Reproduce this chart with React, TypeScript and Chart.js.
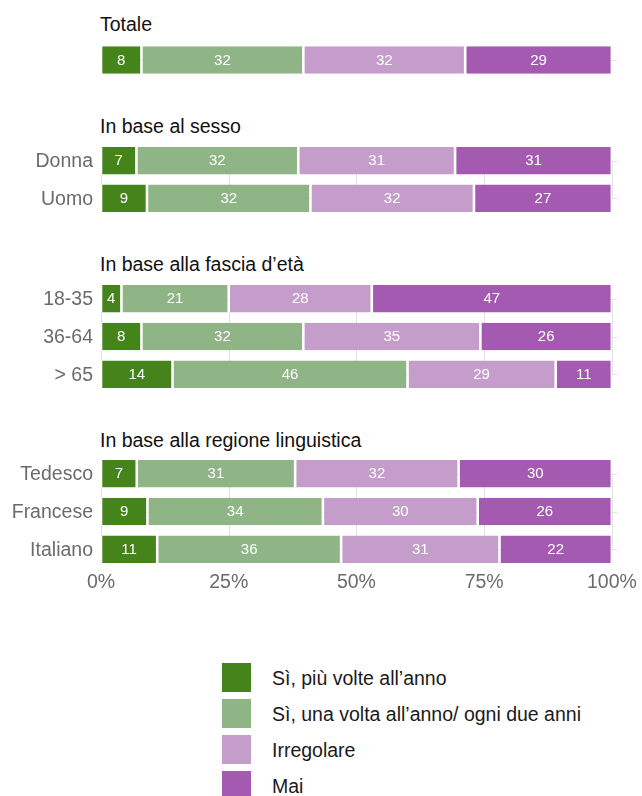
import React, { useEffect, useRef } from 'react';
import { Chart, registerables } from 'chart.js';

Chart.register(...registerables);

// ---------- data ----------
const groupTitles = [
  'Totale',
  'In base al sesso',
  'In base alla fascia d’età',
  'In base alla regione linguistica',
];
const totaleRows = [''];
const sessoRows = ['Donna', 'Uomo'];
const etaRows = ['18-35', '36-64', '> 65'];
const regioneRows = ['Tedesco', 'Francese', 'Italiano'];

const seriesNames = [
  'Sì, più volte all’anno',
  'Sì, una volta all’anno/ ogni due anni',
  'Irregolare',
  'Mai',
];
const seriesColors = ['#45841b', '#8fb485', '#c59dcb', '#a35ab0'];

// values per series (rows in order of the group's categories)
const totaleValues = [[8], [32], [32], [29]];
const sessoValues = [[7, 9], [32, 32], [31, 32], [31, 27]];
const etaValues = [[4, 8, 14], [21, 32, 46], [28, 35, 29], [47, 26, 11]];
const regioneValues = [[7, 9, 11], [31, 34, 36], [32, 30, 31], [30, 26, 22]];

const tickValues = [0, 25, 50, 75, 100];

// ---------- styling ----------
const FONT = '"Liberation Sans", Arial, Helvetica, sans-serif';
const LABEL_GRAY = '#6b6b6b';
const GRID = '#e2e2e2';

const gridPlugin = {
  id: 'panelGrid',
  beforeDatasetsDraw(chart: any) {
    const { ctx, chartArea, scales } = chart;
    const xs = scales.x;
    const ys = scales.y;
    const n = chart.data.labels.length;
    const centers: number[] = [];
    for (let i = 0; i < n; i++) centers.push(ys.getPixelForValue(i));
    ctx.save();
    ctx.strokeStyle = GRID;
    ctx.lineWidth = 1;
    ctx.beginPath();
    centers.forEach((cy) => {
      const yy = Math.round(cy) + 0.5;
      ctx.moveTo(chartArea.left, yy);
      ctx.lineTo(chartArea.right, yy);
    });
    for (let i = 0; i < n - 1; i++) {
      tickValues.forEach((v) => {
        const px = Math.round(xs.getPixelForValue(v)) + 0.5;
        ctx.moveTo(px, centers[i]);
        ctx.lineTo(px, centers[i + 1]);
      });
    }
    ctx.stroke();
    ctx.restore();
  },
};

const valueLabelPlugin = {
  id: 'valueLabels',
  afterDatasetsDraw(chart: any) {
    const { ctx } = chart;
    ctx.save();
    ctx.fillStyle = '#ffffff';
    ctx.font = `15px ${FONT}`;
    ctx.textAlign = 'center';
    ctx.textBaseline = 'middle';
    chart.data.datasets.forEach((ds: any, d: number) => {
      const meta = chart.getDatasetMeta(d);
      meta.data.forEach((el: any, i: number) => {
        const p = el.getProps(['x', 'y', 'base'], true);
        const cx = (p.x + p.base) / 2;
        ctx.fillText(String(ds.rawValues[i]), cx, p.y + 0.5);
      });
    });
    ctx.restore();
  },
};

type PanelProps = {
  rows: string[];
  values: number[][];
  top: number;
  plotHeight: number;
  showAxis: boolean;
};

const AXIS_H = 32;

function Panel({ rows, values, top, plotHeight, showAxis }: PanelProps) {
  const ref = useRef<HTMLCanvasElement | null>(null);
  const height = plotHeight + (showAxis ? AXIS_H : 0);

  useEffect(() => {
    if (!ref.current) return;
    const sums = rows.map((_, i) => values.reduce((s, arr) => s + arr[i], 0));
    const chart = new Chart(ref.current, {
      type: 'bar',
      data: {
        labels: rows,
        datasets: values.map((arr, d) => ({
          label: seriesNames[d],
          data: arr.map((v, i) => (v / sums[i]) * 100),
          rawValues: arr,
          backgroundColor: seriesColors[d],
          borderColor: 'rgba(255,255,255,0.95)',
          borderWidth: { left: 1.3, right: 1.3, top: 0, bottom: 0 },
          borderSkipped: false,
          barPercentage: 1,
          categoryPercentage: 0.73,
        })) as any,
      },
      options: {
        indexAxis: 'y',
        responsive: false,
        animation: false,
        events: [],
        layout: { padding: { left: 0, right: 25, top: 0, bottom: 0 } },
        plugins: {
          legend: { display: false },
          tooltip: { enabled: false },
        },
        scales: {
          x: {
            type: 'linear',
            stacked: true,
            min: 0,
            max: 101,
            display: showAxis,
            grid: { display: false, drawTicks: false },
            border: { display: false },
            afterBuildTicks: (scale: any) => {
              scale.ticks = tickValues.map((v) => ({ value: v }));
            },
            afterFit: (scale: any) => {
              scale.height = showAxis ? AXIS_H : 0;
            },
            ticks: {
              padding: 3,
              color: LABEL_GRAY,
              font: { family: FONT, size: 19.5 },
              maxRotation: 0,
              autoSkip: false,
              callback: (v: any) => `${v}%`,
            },
          },
          y: {
            type: 'category',
            stacked: true,
            grid: { display: false, drawTicks: false },
            border: { display: false },
            afterFit: (scale: any) => {
              scale.width = 101;
              scale.paddingTop = 0;
              scale.paddingBottom = 0;
            },
            ticks: {
              padding: 8,
              labelOffset: 1,
              autoSkip: false,
              color: LABEL_GRAY,
              font: { family: FONT, size: 19.5 },
            },
          },
        },
      } as any,
      plugins: [gridPlugin, valueLabelPlugin],
    });
    return () => chart.destroy();
  }, []);

  return (
    <canvas
      ref={ref}
      width={642}
      height={height}
      style={{ position: 'absolute', left: 0, top, width: 642, height }}
    />
  );
}

const titleTops = [14, 115.5, 254, 430];
const panelRows = [totaleRows, sessoRows, etaRows, regioneRows];
const panelValues = [totaleValues, sessoValues, etaValues, regioneValues];
const panelTops = [41, 142, 280, 455];
const panelHeights = [38, 75, 113, 113];

export default function App() {
  return (
    <div
      style={{
        position: 'absolute',
        left: 0,
        top: 0,
        width: 642,
        height: 796,
        overflow: 'hidden',
        background: '#ffffff',
        fontFamily: FONT,
      }}
    >
      {groupTitles.map((t, i) => (
        <div
          key={t}
          style={{
            position: 'absolute',
            left: 100,
            top: titleTops[i],
            fontSize: 19.5,
            lineHeight: '20px',
            color: '#111111',
            whiteSpace: 'nowrap',
          }}
        >
          {t}
        </div>
      ))}
      {panelRows.map((rows, i) => (
        <Panel
          key={i}
          rows={rows}
          values={panelValues[i]}
          top={panelTops[i]}
          plotHeight={panelHeights[i]}
          showAxis={i === panelRows.length - 1}
        />
      ))}
      {seriesNames.map((name, i) => (
        <div
          key={name}
          style={{
            position: 'absolute',
            left: 222,
            top: 663 + i * 36,
            height: 29,
            display: 'flex',
            alignItems: 'center',
            whiteSpace: 'nowrap',
          }}
        >
          <div style={{ width: 29, height: 29, background: seriesColors[i] }} />
          <div style={{ marginLeft: 21, fontSize: 19.5, color: '#1a1a1a', lineHeight: '20px' }}>
            {name}
          </div>
        </div>
      ))}
    </div>
  );
}
